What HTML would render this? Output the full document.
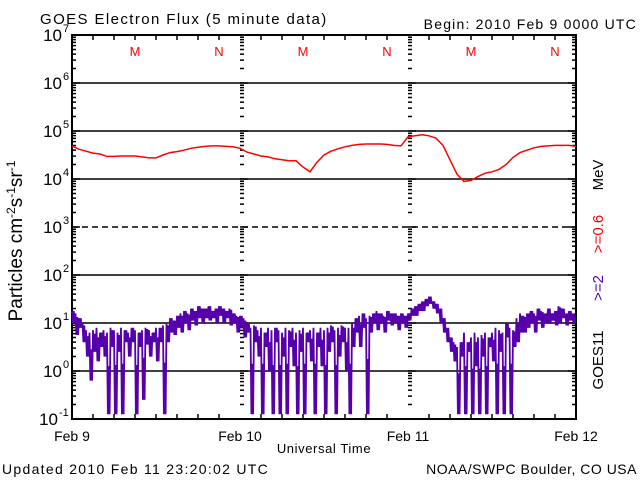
<!DOCTYPE html>
<html><head><meta charset="utf-8"><style>
html,body{margin:0;padding:0;background:#fff;width:640px;height:480px;overflow:hidden}
svg text{font-family:"Liberation Sans","DejaVu Sans",sans-serif}
</style></head><body>
<svg id="chart" xmlns="http://www.w3.org/2000/svg" width="640" height="480" viewBox="0 0 640 480">
<text x="40" y="24" font-size="15" letter-spacing="1.4">GOES Electron Flux (5 minute data)</text>
<text x="637" y="29" font-size="14" text-anchor="end" letter-spacing="1.2">Begin: 2010 Feb 9 0000 UTC</text>
<text x="2" y="474" font-size="14" letter-spacing="1.3">Updated 2010 Feb 11 23:20:02 UTC</text>
<text x="637" y="474" font-size="14" text-anchor="end" letter-spacing="0.5">NOAA/SWPC Boulder, CO USA</text>
<text x="324" y="453" font-size="13" text-anchor="middle" letter-spacing="0.6">Universal Time</text>
<text transform="translate(22,241) rotate(-90)" font-size="19" text-anchor="middle">Particles cm<tspan dy="-7" font-size="12">-2</tspan><tspan dy="7">s</tspan><tspan dy="-7" font-size="12">-1</tspan><tspan dy="7">sr</tspan><tspan dy="-7" font-size="12">-1</tspan></text>
<text transform="translate(603,175) rotate(-90)" font-size="15" text-anchor="middle">MeV</text>
<text transform="translate(603,234) rotate(-90)" font-size="15" fill="#ff0000" text-anchor="middle">&gt;=0.6</text>
<text transform="translate(603,288) rotate(-90)" font-size="15" fill="#5500aa" text-anchor="middle">&gt;=2</text>
<text transform="translate(603,360) rotate(-90)" font-size="15" text-anchor="middle">GOES11</text>
<g id="g"></g>
</svg>
<script>
const dayLabels=["Feb 9","Feb 10","Feb 11","Feb 12"];
const decades=[-1,0,1,2,3,4,5,6,7];
const markers=["M","N"];
const markerHours=[9,21];
// >=0.6 MeV flux (log10), hourly, hr 0..72
const redLog=[4.69,4.62,4.58,4.54,4.52,4.47,4.47,4.48,4.48,4.48,4.46,4.44,4.44,4.5,4.55,4.57,4.6,4.64,4.66,4.68,4.69,4.69,4.68,4.67,4.64,
4.56,4.52,4.48,4.46,4.42,4.40,4.38,4.38,4.25,4.15,4.35,4.5,4.58,4.63,4.67,4.7,4.72,4.73,4.73,4.73,4.72,4.7,4.69,
4.88,4.9,4.92,4.9,4.85,4.7,4.4,4.1,3.95,3.97,4.05,4.12,4.15,4.2,4.3,4.45,4.55,4.6,4.65,4.68,4.69,4.7,4.7,4.7,4.68];
// >=2 MeV flux (log10), half-hourly upper envelope
const purpleHigh=[1.25,1.2,1.1,1.0,0.85,0.8,0.85,0.9,0.8,0.85,0.8,0.9,0.85,0.8,0.9,0.85,0.8,0.9,0.85,0.8,0.85,0.9,0.85,0.8,0.9,0.9,0.95,1.0,1.1,1.05,1.15,1.2,1.25,1.2,1.3,1.25,1.35,1.3,1.3,1.35,1.25,1.3,1.35,1.3,1.25,1.3,1.2,1.15,
1.15,1.1,1.0,0.9,0.95,0.85,0.9,0.8,0.9,0.85,0.9,0.85,0.8,0.9,0.85,0.9,0.8,0.85,0.9,0.8,0.85,0.9,0.8,0.9,0.85,0.9,0.95,0.85,0.9,0.95,0.9,0.9,1.0,1.1,1.15,1.2,1.1,1.15,1.2,1.25,1.2,1.15,1.25,1.2,1.2,1.15,1.2,1.15,
1.2,1.3,1.35,1.4,1.45,1.5,1.55,1.45,1.4,1.3,1.1,0.9,0.7,0.6,0.5,0.6,0.8,0.6,0.7,0.8,0.7,0.75,0.8,0.7,0.8,0.9,0.85,0.8,1.0,0.9,0.85,1.1,1.2,1.15,1.2,1.25,1.2,1.3,1.25,1.2,1.3,1.2,1.25,1.35,1.3,1.2,1.25,1.2];
// >=2 MeV flux (log10), half-hourly lower envelope
const purpleLow=[1.0,0.75,0.9,0.6,0.3,-0.2,0.4,0.2,0.5,0.3,-0.9,0.5,-0.9,0.4,-0.9,0.6,0.3,0.6,-0.9,0.5,-0.6,0.55,0.3,0.6,0.2,0.6,-0.9,0.6,0.8,0.75,0.9,0.8,1.0,0.85,1.05,0.95,1.1,1.0,1.1,1.05,1.1,1.0,1.15,1.0,1.1,0.95,1.0,0.8,
0.9,0.7,0.8,-0.9,0.6,0.3,-0.9,0.5,0.0,-0.9,0.6,-0.9,0.3,-0.9,0.5,0.1,-0.9,0.4,-0.9,0.6,0.2,-0.9,0.5,0.1,-0.9,0.4,0.6,-0.9,0.3,0.6,0.0,-0.9,0.5,0.8,0.5,0.9,-0.9,0.8,1.0,0.85,1.0,0.8,1.05,0.95,1.0,0.85,1.0,0.9,
1.05,1.15,1.15,1.25,1.25,1.35,1.4,1.3,1.2,1.0,0.8,0.6,0.4,0.2,-0.9,0.3,-0.9,0.4,-0.9,0.1,-0.9,0.3,-0.9,0.5,0.2,-0.9,0.4,-0.9,0.7,-0.9,0.5,0.6,0.8,0.8,0.9,1.0,0.8,1.05,0.9,1.0,1.0,1.05,0.95,1.0,1.1,0.95,1.05,1.0];
const L=72,R=576,T=35,B=419;
const x=h=>L+(R-L)*h/72;
const y=lg=>B-(B-T)*(lg+1)/8;
const g=document.getElementById('g');
const NS="http://www.w3.org/2000/svg";
function mk(tag,attrs){const e=document.createElementNS(NS,tag);for(const k in attrs)e.setAttribute(k,attrs[k]);g.appendChild(e);return e;}
const fr=mk('rect',{x:L,y:T,width:R-L,height:B-T,fill:'none',stroke:'#000','stroke-width':2});


decades.forEach(d=>{
 if(d===-1||d===7)return;
 const ln=mk('line',{x1:L,x2:R,y1:y(d),y2:y(d),stroke:'#000','stroke-width':1.5});
 if(d===3)ln.setAttribute('stroke-dasharray','6,4');
 
 
});
let tk="";
decades.forEach(d=>{
 const yy=y(d);
 [L,x(24),x(48)].forEach(xx=>{tk+=`M${xx} ${yy}h8`;});
 tk+=`M${R} ${yy}h-8`;
 if(d<7){for(let m=2;m<10;m++){const ym=y(d+Math.log10(m));[L,x(24),x(48)].forEach(xx=>{tk+=`M${xx} ${ym}h4`;});tk+=`M${R} ${ym}h-4`;}}
 const t=mk('text',{x:d===-1?58:62,y:yy+6,'font-size':17,'text-anchor':'end'});
 t.textContent="10";
 
 
 const s=mk('text',{x:d===-1?59:63,y:yy-3,'font-size':11});
 s.textContent=d===-1?"-1":String(d);
 
 
});
for(let h=3;h<72;h+=3){if(h%24===0)continue;tk+=`M${x(h)} ${T}v5M${x(h)} ${B}v-5`;}
const ticks=mk('path',{d:tk,stroke:'#000','stroke-width':1.5,fill:'none'});


dayLabels.forEach((lb,i)=>{
 const t=mk('text',{x:x(i*24),y:441,'font-size':14,'text-anchor':'middle'});
 t.textContent=lb;
 
 
});
for(let dd=0;dd<3;dd++)markers.forEach((m,i)=>{
 const t=mk('text',{x:x(dd*24+markerHours[i]),y:56,'font-size':13,fill:'#ff0000','text-anchor':'middle'});
 t.textContent=m;
 
 
});
let pts=[];
purpleHigh.forEach((hv,i)=>{
 const t=i/2, lv=purpleLow[i];
 pts.push(`${x(t).toFixed(1)},${y(hv).toFixed(1)}`);
 pts.push(`${x(t+0.125).toFixed(1)},${y(lv).toFixed(1)}`);
 pts.push(`${x(t+0.25).toFixed(1)},${y((hv+lv)/2+0.15>hv?hv:(hv+lv)/2+0.15).toFixed(1)}`);
 pts.push(`${x(t+0.375).toFixed(1)},${y(lv).toFixed(1)}`);
});
const pl=mk('polyline',{points:pts.join(' '),fill:'none',stroke:'#5500aa','stroke-width':1.8});


const rp=redLog.map((v,i)=>`${x(i).toFixed(1)},${y(v).toFixed(1)}`).join(' ');
const rl=mk('polyline',{points:rp,fill:'none',stroke:'#ff0000','stroke-width':1.5});


</script>
</body></html>
